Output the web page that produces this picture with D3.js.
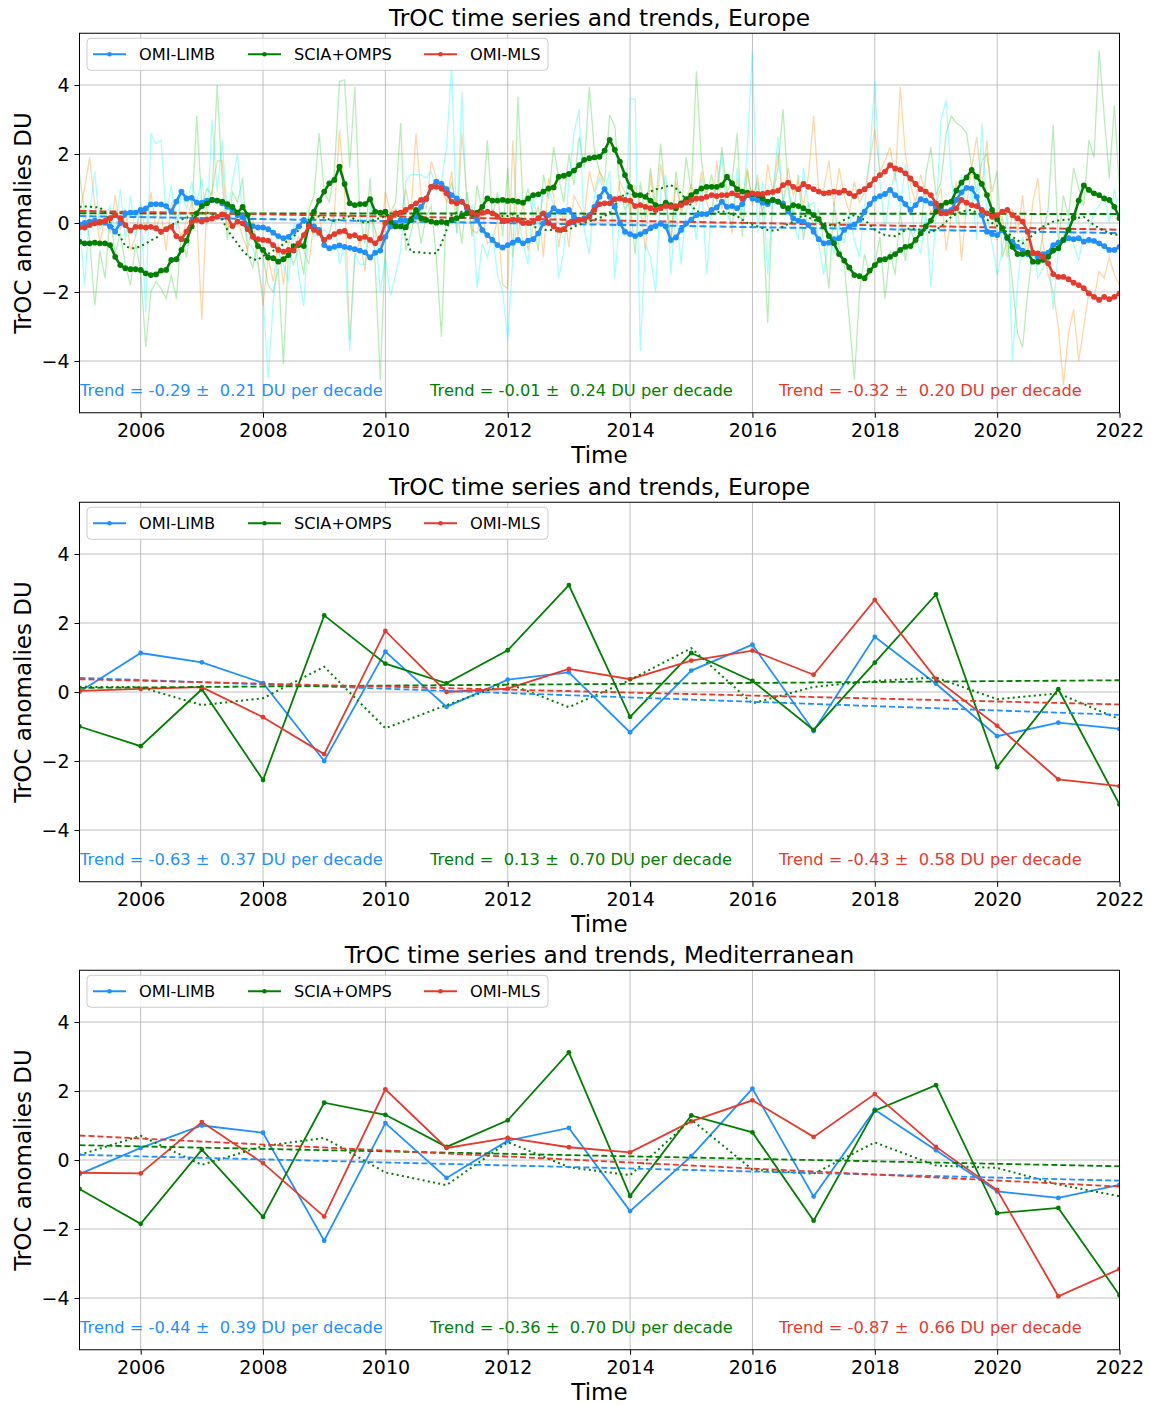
<!DOCTYPE html>
<html>
<head>
<meta charset="utf-8">
<script src="https://cdn.jsdelivr.net/npm/d3@7"></script>
<style>
  body { margin: 0; background: #ffffff; }
  text { font-family: "DejaVu Sans", "Liberation Sans", sans-serif; }
</style>
</head>
<body>
<svg id="chart" width="1151" height="1405"></svg>
<script>
// ---------------- data ----------------
const seriesNames = ["OMI-LIMB", "SCIA+OMPS", "OMI-MLS"];
const seriesColors = ["#1e90ff", "#008000", "#e63a2c"];
const rawColors = ["#00ffff", "#32cd32", "#ff8c00"];
const xTickYears = [2006, 2008, 2010, 2012, 2014, 2016, 2018, 2020, 2022];
const yTickValues = [-4, -2, 0, 2, 4];
const panelTitles = [
  "TrOC time series and trends, Europe",
  "TrOC time series and trends, Europe",
  "TrOC time series and trends, Mediterranean"
];

// monthly anomalies, Europe, Jan 2005 .. Jan 2022 (smoothed)
const eurMonthlyLimbSmooth = [
  -0.04, 0.0, 0.04, 0.07, 0.04, 0.01, -0.1, -0.25, 0.0, 0.28, 0.3, 0.3,
  0.38, 0.42, 0.54, 0.55, 0.54, 0.49, 0.33, 0.62, 0.91, 0.71, 0.73, 0.59,
  0.59, 0.65, 0.67, 0.65, 0.57, 0.47, 0.38, 0.23, 0.18, -0.06, -0.09, -0.13,
  -0.13, -0.18, -0.28, -0.38, -0.44, -0.4, -0.25, -0.1, 0.09, -0.01, -0.1, -0.2,
  -0.64, -0.73, -0.69, -0.65, -0.69, -0.72, -0.76, -0.8, -0.85, -1.0, -0.86, -0.8,
  -0.4, -0.1, 0.0, 0.09, 0.07, 0.09, 0.18, 0.47, 0.69, 1.05, 1.2, 1.13,
  0.98, 0.81, 0.71, 0.62, 0.43, 0.28, 0.09, -0.2, -0.35, -0.49, -0.64, -0.71,
  -0.64, -0.57, -0.49, -0.59, -0.51, -0.47, -0.3, -0.01, 0.23, 0.43, 0.33, 0.36,
  0.38, 0.18, 0.09, 0.14, 0.23, 0.47, 0.76, 0.98, 0.76, 0.47, -0.01, -0.25,
  -0.32, -0.38, -0.32, -0.25, -0.15, -0.09, -0.01, -0.1, -0.49, -0.42, -0.2, -0.01,
  0.1, 0.23, 0.26, 0.26, 0.38, 0.45, 0.62, 0.47, 0.49, 0.43, 0.55, 0.81,
  0.71, 0.67, 0.59, 0.55, 0.67, 0.62, 0.57, 0.33, 0.14, 0.07, 0.04, -0.06,
  -0.25, -0.47, -0.59, -0.57, -0.47, -0.44, -0.2, -0.1, -0.04, 0.09, 0.33, 0.55,
  0.71, 0.78, 0.84, 0.96, 0.81, 0.71, 0.55, 0.38, 0.52, 0.69, 0.65, 0.57,
  0.45, 0.38, 0.33, 0.38, 0.67, 0.89, 1.02, 1.0, 0.76, 0.23, -0.25, -0.32,
  -0.35, -0.2, -0.44, -0.54, -0.69, -0.8, -0.9, -0.88, -0.98, -0.9, -0.86, -0.64,
  -0.57, -0.49, -0.44, -0.47, -0.44, -0.54, -0.49, -0.52, -0.59, -0.67, -0.78, -0.78,
  -0.69
];
const eurMonthlySciaOmpsSmooth = [
  -0.54, -0.59, -0.59, -0.57, -0.59, -0.59, -0.64, -0.98, -1.22, -1.31, -1.34, -1.34,
  -1.36, -1.46, -1.51, -1.49, -1.38, -1.36, -1.07, -1.05, -0.78, -0.51, -0.1, 0.28,
  0.49, 0.57, 0.67, 0.65, 0.62, 0.55, 0.47, 0.3, 0.47, 0.23, -0.38, -0.67,
  -0.78, -1.0, -1.02, -1.12, -1.05, -0.93, -0.67, -0.64, -0.67, -0.06, 0.33, 0.65,
  0.91, 1.15, 1.25, 1.63, 1.13, 0.57, 0.52, 0.55, 0.55, 0.69, 0.33, 0.3,
  0.33, 0.04, -0.1, -0.1, -0.12, 0.09, 0.38, 0.14, 0.09, 0.04, 0.01, 0.03,
  0.01, 0.09, 0.14, 0.2, 0.28, 0.26, 0.3, 0.47, 0.71, 0.65, 0.65, 0.67,
  0.64, 0.65, 0.62, 0.59, 0.71, 0.81, 0.83, 0.91, 1.0, 1.03, 1.34, 1.37,
  1.42, 1.52, 1.68, 1.83, 1.88, 1.9, 1.92, 2.1, 2.41, 2.12, 1.78, 1.39,
  1.05, 0.81, 0.81, 0.76, 0.65, 0.52, 0.47, 0.59, 0.52, 0.43, 0.57, 0.69,
  0.81, 0.91, 1.0, 1.05, 1.05, 1.05, 1.1, 1.34, 1.15, 0.98, 0.91, 0.88,
  0.84, 0.81, 0.71, 0.62, 0.67, 0.62, 0.49, 0.43, 0.52, 0.49, 0.43, 0.33,
  0.23, 0.11, -0.1, -0.38, -0.59, -0.9, -1.09, -1.29, -1.51, -1.54, -1.6, -1.38,
  -1.22, -1.07, -1.05, -0.98, -0.9, -0.78, -0.69, -0.67, -0.49, -0.3, -0.1, 0.07,
  0.33, 0.5, 0.59, 0.62, 0.94, 1.17, 1.32, 1.54, 1.34, 1.13, 0.81, 0.38,
  0.11, -0.15, -0.42, -0.69, -0.9, -0.9, -0.86, -1.12, -1.12, -1.07, -0.98, -0.8,
  -0.73, -0.49, -0.2, 0.16, 0.65, 1.09, 0.96, 0.86, 0.81, 0.71, 0.67, 0.47,
  0.14
];
const eurMonthlyMlsSmooth = [
  -0.13, -0.13, -0.06, -0.01, 0.01, 0.06, 0.14, 0.23, 0.14, -0.06, -0.22, -0.11,
  -0.11, -0.13, -0.11, -0.15, -0.25, -0.18, -0.11, -0.38, -0.47, -0.25, 0.04, 0.09,
  0.04, 0.1, 0.13, 0.18, 0.25, 0.18, -0.09, 0.04, -0.01, -0.18, -0.4, -0.47,
  -0.49, -0.51, -0.64, -0.78, -0.83, -0.78, -0.8, -0.59, -0.35, -0.09, -0.2, -0.28,
  -0.49, -0.4, -0.32, -0.25, -0.23, -0.38, -0.35, -0.44, -0.4, -0.49, -0.59, -0.44,
  0.0, 0.16, 0.28, 0.3, 0.38, 0.47, 0.57, 0.67, 0.71, 1.05, 1.05, 1.0,
  0.86, 0.62, 0.57, 0.62, 0.47, 0.3, 0.23, 0.3, 0.33, 0.28, 0.18, 0.07,
  0.07, 0.1, 0.09, 0.0, 0.0, 0.04, 0.14, 0.28, 0.0, -0.1, -0.2, -0.18,
  0.0, 0.04, 0.09, 0.1, 0.18, 0.38, 0.55, 0.57, 0.57, 0.69, 0.71, 0.67,
  0.65, 0.49, 0.52, 0.47, 0.43, 0.38, 0.43, 0.49, 0.47, 0.49, 0.52, 0.59,
  0.67, 0.71, 0.71, 0.76, 0.81, 0.78, 0.81, 0.81, 0.86, 0.81, 0.71, 0.81,
  0.86, 0.84, 0.84, 0.88, 0.9, 0.94, 1.1, 1.17, 1.05, 0.98, 1.13, 1.05,
  0.98, 0.91, 0.86, 0.88, 0.91, 0.88, 0.94, 0.86, 0.78, 0.91, 0.98, 1.1,
  1.27, 1.39, 1.49, 1.68, 1.58, 1.54, 1.44, 1.29, 1.13, 0.98, 0.91, 0.81,
  0.57, 0.28, 0.28, 0.33, 0.43, 0.67, 0.59, 0.52, 0.49, 0.38, 0.28, 0.18,
  0.23, 0.33, 0.38, 0.23, 0.14, 0.04, -0.25, -0.86, -0.88, -0.98, -1.17, -1.48,
  -1.56, -1.56, -1.63, -1.73, -1.8, -1.89, -2.04, -2.14, -2.23, -2.14, -2.21, -2.14,
  -2.04
];
// alternative SCIA+OMPS product (smoothed), drawn dotted
const eurMonthlySciaOmpsAlt = [
  0.47, 0.48, 0.47, 0.46, 0.45, 0.3, 0.0, -0.2, -0.4, -0.67, -0.73, -0.73,
  -0.67, -0.6, -0.5, -0.44, -0.3, -0.15, -0.05, 0.0, 0.1, 0.15, 0.2, 0.25,
  0.3, 0.3, 0.25, 0.2, 0.1, -0.2, -0.4, -0.6, -0.8, -0.95, -1.05, -1.07,
  -0.95, -0.9, -0.8, -0.75, -0.6, -0.5, -0.4, -0.2, 0.0, 0.1, 0.15, 0.2,
  0.15, 0.1, 0.05, 0.1, 0.15, 0.2, 0.1, 0.05, 0.0, 0.05, 0.1, 0.15,
  0.2, 0.25, 0.2, 0.2, -0.4, -0.83, -0.85, -0.85, -0.87, -0.88, -0.88, -0.6,
  -0.2, 0.23, 0.3, 0.33, 0.36, 0.35, 0.3, 0.25, 0.3, 0.3, 0.25, 0.2,
  0.2, 0.25, 0.2, 0.1, 0.0, -0.1, -0.15, -0.2, -0.2, -0.2, -0.25, -0.25,
  -0.2, -0.1, -0.05, 0.0, 0.05, 0.1, 0.15, 0.2, 0.3, 0.5, 0.7, 0.85,
  0.86, 0.8, 0.76, 0.81, 0.91, 0.98, 1.0, 1.05, 1.1, 1.0, 0.86, 0.68,
  0.5, 0.35, 0.3, 0.28, 0.25, 0.3, 0.35, 0.3, 0.25, 0.2, 0.1, 0.0,
  -0.05, -0.1, -0.15, -0.2, -0.22, -0.2, -0.1, -0.03, 0.04, 0.14, 0.23, 0.16,
  0.09, 0.05, 0.0, -0.05, -0.1, 0.0, 0.09, 0.16, 0.23, 0.16, 0.09, -0.05,
  -0.2, -0.28, -0.35, -0.37, -0.38, -0.3, -0.2, -0.15, -0.18, -0.2, -0.24, -0.28,
  -0.2, -0.1, 0.04, 0.18, 0.26, 0.33, 0.36, 0.38, 0.3, 0.23, 0.1, 0.0,
  -0.08, -0.15, -0.28, -0.4, -0.5, -0.59, -0.47, -0.35, -0.22, -0.1, -0.03, 0.04,
  0.07, 0.09, 0.1, 0.11, 0.15, 0.18, 0.06, -0.06, -0.15, -0.22, -0.3, -0.33,
  -0.35
];
// monthly anomalies, Europe (unsmoothed)
const eurMonthlyLimbRaw = [
  0.1, -1.8, 0.3, 1.5, -0.2, 0.1, 0.5, -0.3, 1.0, -0.5, 0.8, -0.4,
  0.6, -2.6, 2.6, 2.3, 2.4, 0.2, 1.1, -0.2, 0.9, 0.4, 1.2, 0.6,
  1.3, -0.1, 3.0, 0.9, 2.4, 0.2, 1.2, 2.0, 0.1, -0.6, -0.7, -1.2,
  -2.1, -4.5, -2.3, -0.8, -1.2, -1.7, 0.0, -1.5, -2.4, 0.2, -0.4, -0.3,
  -0.2, -0.3, 0.2, -1.2, -0.6, -3.7, -0.9, -1.2, -1.2, 0.5, -0.2, -2.0,
  -1.0, -2.1, -1.5, -0.8, 1.2, 1.4, 1.4, 1.4, 1.3, 1.5, 0.9, 1.2,
  2.2, 4.6, -0.3, 3.8, 0.2, 0.5, -1.9, -0.6, -1.0, -0.3, -1.5, -2.0,
  -3.4, -1.0, 0.3, -0.6, -1.2, 0.8, -0.1, 0.9, 1.0, 0.5, -1.6, -0.8,
  1.2, 2.6, 3.3, -0.2, -0.9, 0.8, 1.3, 0.9, 1.5, -1.6, 0.2, -0.4,
  3.6, 3.6, -3.7, -0.6, -1.0, -2.0, 0.9, 1.4, -1.5, 0.5, -1.2, 0.4,
  0.6, -0.5, 1.3, -1.5, 0.4, 1.1, 2.0, 0.3, -0.1, 1.6, 0.2, 2.2,
  5.0, -0.3, 1.2, -1.5, 0.8, 2.5, 0.6, 1.2, 0.1, -0.5, 1.6, 0.5,
  0.6, -0.6, -1.5, -0.3, -0.9, 0.0, -0.6, 0.3, -0.5, -1.0, 0.5, 1.9,
  4.1, 1.2, -0.2, 0.9, 1.5, 0.4, 1.7, 0.6, -0.4, -0.9, 0.3, -1.85,
  0.2, 3.0, 3.56, 1.3, 0.0, 1.4, 0.2, 1.0, -0.5, 2.9, 0.2, -0.6,
  -1.5, -0.8, 0.3, -4.0, -1.8, -0.4, -1.0, -0.6, -1.6, -1.3, -0.9, -2.5,
  -0.8, -0.4, 0.0, -0.6, -1.1, -0.3, -0.2, 0.3, 0.5, 0.8, 0.0, 1.0,
  0.2
];
const eurMonthlySciaOmpsRaw = [
  1.4, 0.3, -0.5, -2.4, -0.8, -1.6, 0.2, -0.9, -0.3, -1.2, -1.8, -0.6,
  -1.4, -3.6, -2.0, -1.7, -1.9, -2.2, -1.5, -2.2, -0.3, -1.0, 0.2, 3.1,
  0.5, 1.0, 0.8, 4.0, 1.2, -0.5, 0.9, 0.6, 1.3, -0.9, -1.3, -0.5,
  -1.0, -1.8, -2.0, -1.3, -4.1, -0.8, -1.2, -0.7, -1.5, 0.4, 0.8, 2.6,
  0.9, 0.6, 1.5, 4.1, 4.15, 1.6, 3.95, 0.2, -0.6, 1.3, -1.2, -4.55,
  -0.5, 0.3, 0.6, 2.9, -0.8, -0.3, 0.4, -0.6, 0.2, 0.5, -1.0, -3.3,
  0.6, 1.2, 0.4, -0.6, 0.9, -0.4, 1.1, 0.3, 2.4, 0.2, 0.9, -0.4,
  1.6, -1.0, 3.66, 0.5, 1.0, 0.2, -0.8, 1.4, 0.7, 2.2, 1.3, 0.6,
  2.0, 1.1, 2.5, 1.6, 3.95, 2.1, 1.5, 1.2, 3.13, 2.8, 0.9, 0.4,
  0.6, -0.9, 1.2, 0.1, 1.6, 0.5, 2.3, 0.7, -0.6, 1.5, 0.4, 1.9,
  0.9, 4.4, 1.8, 0.8, 1.4, 0.6, 2.2, 0.9, 1.2, 2.6, -0.4, 1.5,
  0.7, 1.2, 0.3, -2.9, 0.8, 1.6, 3.3, 1.0, 0.2, 1.4, -0.5, 0.6,
  -0.2, 0.4, -0.6, -1.9, 0.6, -0.7, -1.2, -2.8, -4.55, -2.0, -0.9, -1.5,
  -1.2, -0.4, -2.2, -0.8, -1.5, 0.4, -1.1, -0.2, -0.6, -0.3, 1.4, 2.2,
  0.8, 1.2, 2.6, 3.1, 2.9, 2.8, 2.6, 1.6, 0.9, 1.8, 2.0, 0.9,
  1.5, -1.0, -0.5, -1.7, -3.2, -3.6, -2.0, -0.8, -1.2, -0.3, 0.4, 2.84,
  -0.6, 0.8, 0.2, 1.6, 1.0, 0.5, 2.4, 1.9, 5.0, 3.1, 1.3, 3.4,
  0.9
];
const eurMonthlyMlsRaw = [
  0.3, 1.0, 1.9, 0.5, -0.6, 0.2, -0.3, 0.8, -0.2, 0.4, -0.8, -0.4,
  0.5, -0.3, 0.9, -0.2, 0.3, -0.8, 0.6, 0.2, -0.5, 0.1, 0.6, 0.2,
  -2.8, 0.6, 0.9, 1.8, 1.8, -0.2, 0.4, 0.1, -0.4, -0.8, 0.2, -1.1,
  -2.4, -1.0, -1.7, -0.6, -1.8, -0.5, -0.7, -0.4, -0.8, -1.2, 0.1, 0.2,
  -0.6, -0.3, 0.3, 2.7, 0.9, -3.4, -1.0, -0.5, -1.4, 0.2, -0.2, -0.7,
  0.9, 0.3, 0.4, 0.1, 1.0, 0.2, 2.6, 0.8, 0.4, 1.8, 1.3, 1.0,
  0.6, 1.5, -0.3, 2.6, 0.8, -0.2, -0.3, 0.4, -0.6, -0.5, 0.1, -1.8,
  -1.9, 2.4, -0.4, 0.6, -0.8, -0.1, 0.5, -1.0, 1.3, 0.8, -0.7, 0.4,
  -0.7, 0.8, 0.5, 0.2, 1.5, 0.9, 1.5, 1.0, 0.6, 0.4, 1.2, 0.9,
  0.3, 1.1, 0.5, -0.8, 1.4, 0.2, 1.7, 0.8, -0.6, 1.2, 0.3, 0.7,
  1.1, 0.5, 1.5, 0.6, 0.2, 1.8, 0.4, 0.9, -0.3, 1.3, 0.6, 1.6,
  0.5, 1.4, 0.2, 1.7, 0.9, 2.0, 0.6, 1.6, 0.8, 1.2, 0.5, 1.4,
  3.1, 0.9, 1.0, 1.8, 0.5, 1.6, 0.8, 0.3, 1.2, 0.6, 0.9, 1.8,
  2.7, 1.5, 1.8, 2.2, 1.2, 3.95, 2.0, 1.1, 0.6, 1.4, 0.8, 0.3,
  0.6, 1.0, -0.8, 0.2, 1.2, -1.1, 0.5, 1.6, 2.5, 1.0, 2.4, 0.3,
  -0.5, 0.2, -1.0, 0.4, -0.3, 0.8, -0.9, 0.6, 1.3, -0.6, -1.5, -2.0,
  -3.0, -4.7, -3.2, -2.5, -4.0, -3.0, -2.0, -2.2, -1.4, -1.6, -1.0, -1.5,
  -1.8
];

// annual anomalies, 2005..2022
const annualYears = [2005, 2006, 2007, 2008, 2009, 2010, 2011, 2012, 2013,
                     2014, 2015, 2016, 2017, 2018, 2019, 2020, 2021, 2022];
const eurAnnualLimb = [0.01, 1.13, 0.86, 0.26, -2.0, 1.17, -0.43, 0.36, 0.57,
                       -1.17, 0.62, 1.37, -1.13, 1.6, 0.24, -1.28, -0.89, -1.07];
const eurAnnualSciaOmps = [-1.0, -1.57, 0.08, -2.55, 2.22, 0.82, 0.25, 1.21, 3.1,
                           -0.72, 1.13, 0.32, -1.1, 0.85, 2.83, -2.18, 0.08, -3.26];
const eurAnnualMls = [0.03, 0.09, 0.14, -0.73, -1.8, 1.77, 0.0, 0.1, 0.67,
                      0.37, 0.91, 1.2, 0.5, 2.67, 0.38, -0.98, -2.53, -2.73];
const eurAnnualSciaOmpsAlt = [0.15, 0.14, -0.38, -0.18, 0.73, -1.05, -0.38, 0.25, -0.44,
                              0.35, 1.27, -0.33, 0.15, 0.32, 0.42, -0.21, -0.04, -0.79];
const medAnnualLimb = [-0.41, 0.35, 1.0, 0.79, -2.34, 1.07, -0.52, 0.56, 0.93,
                       -1.48, 0.11, 2.07, -1.06, 1.46, 0.28, -0.91, -1.1, -0.72];
const medAnnualSciaOmps = [-0.84, -1.85, 0.3, -1.65, 1.66, 1.31, 0.38, 1.15, 3.12,
                           -1.04, 1.29, 0.8, -1.76, 1.43, 2.17, -1.54, -1.39, -3.92];
const medAnnualMls = [-0.37, -0.39, 1.1, -0.09, -1.64, 2.05, 0.35, 0.64, 0.37,
                      0.22, 1.12, 1.73, 0.67, 1.91, 0.38, -0.87, -3.95, -3.16];
const medAnnualSciaOmpsAlt = [0.15, 0.7, -0.14, 0.4, 0.64, -0.36, -0.73, 0.52, -0.21,
                              -0.44, 1.17, -0.28, -0.4, 0.51, -0.16, -0.23, -0.71, -1.05];

// trends (DU per decade), uncertainties, and fitted value at 2005 for each panel
const trendSlopes = [[-0.29, -0.01, -0.32], [-0.63, 0.13, -0.43], [-0.44, -0.36, -0.87]];
const trendErrors = [[0.21, 0.24, 0.20], [0.37, 0.70, 0.58], [0.39, 0.70, 0.66]];
const trendStart  = [[0.20, 0.28, 0.35], [0.41, 0.12, 0.37], [0.15, 0.43, 0.71]];

// ---------------- layout ----------------
const svg = d3.select("#chart");
const LEFT = 79.5, W = 1040, H = 379.5;
const panelTops = [33.25, 502.25, 970.25];
const x = d3.scaleLinear().domain([2005, 2022]).range([0, W]);
const y = d3.scaleLinear().domain([-5.5, 5.5]).range([H, 0]);
const monthTimes = d3.range(eurMonthlyLimbSmooth.length).map(i => 2005 + i / 12);

const line = d3.line().x(d => x(d[0])).y(d => y(d[1]));
const zipT = (ts, vs) => ts.map((t, i) => [t, vs[i]]);

svg.append("rect").attr("width", 1151).attr("height", 1405).attr("fill", "#ffffff");

function drawPanel(p) {
  const g = svg.append("g").attr("transform", `translate(${LEFT},${panelTops[p]})`);
  const clipId = "clip" + p;
  g.append("clipPath").attr("id", clipId).append("rect").attr("width", W).attr("height", H);

  // grid
  const grid = g.append("g").attr("stroke", "#b0b0b0").attr("stroke-width", 0.8);
  xTickYears.forEach(t => grid.append("line").attr("x1", x(t)).attr("x2", x(t)).attr("y1", 0).attr("y2", H));
  yTickValues.forEach(v => grid.append("line").attr("x1", 0).attr("x2", W).attr("y1", y(v)).attr("y2", y(v)));

  const plot = g.append("g").attr("clip-path", `url(#${clipId})`);
  return { g, plot };
}

function axesAndLabels(p, g) {
  const xAxis = d3.axisBottom(x).tickValues(xTickYears).tickFormat(d3.format("d")).tickSize(5).tickPadding(6);
  const yAxis = d3.axisLeft(y).tickValues(yTickValues).tickSize(5).tickPadding(5);
  const xa = g.append("g").attr("transform", `translate(0,${H})`).call(xAxis);
  const ya = g.append("g").call(yAxis);
  [xa, ya].forEach(a => {
    a.select(".domain").remove();
    a.selectAll("line").attr("stroke", "#000").attr("stroke-width", 1);
    a.selectAll("text").attr("fill", "#000").style("font-size", "19px")
      .style("font-family", '"DejaVu Sans", sans-serif');
  });
  g.append("rect").attr("width", W).attr("height", H).attr("fill", "none")
    .attr("stroke", "#000").attr("stroke-width", 1);

  g.append("text").attr("x", W / 2).attr("y", -7.5).attr("text-anchor", "middle")
    .style("font-size", "23.3px").text(panelTitles[p]);
  g.append("text").attr("x", W / 2).attr("y", H + 50).attr("text-anchor", "middle")
    .style("font-size", "23px").text("Time");
  g.append("text").attr("transform", `translate(${31 - LEFT},${H / 2}) rotate(-90)`)
    .attr("text-anchor", "middle").style("font-size", "23px").text("TrOC anomalies DU");
}

// legend entries: start of each handle, relative to the axes' left edge
const legendEntryX = [13.5, 168.5, 344.5];
function legend(g) {
  const lg = g.append("g");
  lg.append("rect").attr("x", 7.5).attr("y", 5).attr("width", 461).attr("height", 32).attr("rx", 4)
    .attr("fill", "#ffffff").attr("fill-opacity", 0.8).attr("stroke", "#cccccc").attr("stroke-width", 1);
  seriesNames.forEach((name, k) => {
    const cx = legendEntryX[k];
    lg.append("line").attr("x1", cx).attr("x2", cx + 33).attr("y1", 21).attr("y2", 21)
      .attr("stroke", seriesColors[k]).attr("stroke-width", 2);
    lg.append("circle").attr("cx", cx + 16.5).attr("cy", 21).attr("r", 2.3).attr("fill", seriesColors[k]);
    lg.append("text").attr("x", cx + 46).attr("y", 21).attr("dy", "0.36em")
      .style("font-size", "16.2px").attr("fill", "#000").text(name);
  });
}

function trendLabels(p, g) {
  const xs = [0.5, 350.5, 699.5];
  seriesNames.forEach((name, k) => {
    const s = trendSlopes[p][k];
    const txt = "Trend = " + (s < 0 ? "-" : " ") + Math.abs(s).toFixed(2) +
      " \u00b1  " + trendErrors[p][k].toFixed(2) + " DU per decade";
    g.append("text").attr("x", xs[k]).attr("y", H - 16.5).attr("xml:space", "preserve")
      .style("white-space", "pre").style("font-size", "16.3px").attr("fill", seriesColors[k]).text(txt);
  });
}

function trendLines(p, plot, width, dash) {
  seriesNames.forEach((name, k) => {
    const a = trendStart[p][k], b = trendSlopes[p][k] / 10;
    const pts = [2005, 2022].map(t => [t, a + b * (t - 2005)]);
    plot.append("path").attr("d", line(pts)).attr("fill", "none")
      .attr("stroke", seriesColors[k]).attr("stroke-width", width).attr("stroke-dasharray", dash);
  });
}

// ---------------- panel 1: monthly ----------------
{
  const { g, plot } = drawPanel(0);
  const raws = [eurMonthlyLimbRaw, eurMonthlySciaOmpsRaw, eurMonthlyMlsRaw];
  [1, 2, 0].forEach(k => {
    plot.append("path").attr("d", line(zipT(monthTimes, raws[k]))).attr("fill", "none")
      .attr("stroke", rawColors[k]).attr("stroke-opacity", 0.35).attr("stroke-width", 1.3);
  });
  trendLines(0, plot, 2, "7,3");
  plot.append("path").attr("d", line(zipT(monthTimes, eurMonthlySciaOmpsAlt))).attr("fill", "none")
    .attr("stroke", seriesColors[1]).attr("stroke-width", 2).attr("stroke-dasharray", "2,3.3");
  const smooth = [eurMonthlyLimbSmooth, eurMonthlySciaOmpsSmooth, eurMonthlyMlsSmooth];
  smooth.forEach((vals, k) => {
    const pts = zipT(monthTimes, vals);
    plot.append("path").attr("d", line(pts)).attr("fill", "none")
      .attr("stroke", seriesColors[k]).attr("stroke-width", 2.6).attr("stroke-linejoin", "round");
    plot.selectAll(null).data(pts).enter().append("circle")
      .attr("cx", d => x(d[0])).attr("cy", d => y(d[1])).attr("r", 2.9).attr("fill", seriesColors[k]);
  });
  axesAndLabels(0, g);
  legend(g);
  trendLabels(0, g);
}

// ---------------- panels 2 and 3: annual ----------------
function annualPanel(p, vals, alt) {
  const { g, plot } = drawPanel(p);
  vals.forEach((v, k) => {
    const pts = zipT(annualYears, v);
    plot.append("path").attr("d", line(pts)).attr("fill", "none")
      .attr("stroke", seriesColors[k]).attr("stroke-width", 1.8);
    plot.selectAll(null).data(pts).enter().append("circle")
      .attr("cx", d => x(d[0])).attr("cy", d => y(d[1])).attr("r", 2.4).attr("fill", seriesColors[k]);
  });
  plot.append("path").attr("d", line(zipT(annualYears, alt))).attr("fill", "none")
    .attr("stroke", seriesColors[1]).attr("stroke-width", 2).attr("stroke-dasharray", "2,3.3");
  trendLines(p, plot, 1.8, "6,3");
  axesAndLabels(p, g);
  legend(g);
  trendLabels(p, g);
}
annualPanel(1, [eurAnnualLimb, eurAnnualSciaOmps, eurAnnualMls], eurAnnualSciaOmpsAlt);
annualPanel(2, [medAnnualLimb, medAnnualSciaOmps, medAnnualMls], medAnnualSciaOmpsAlt);
</script>
</body>
</html>
